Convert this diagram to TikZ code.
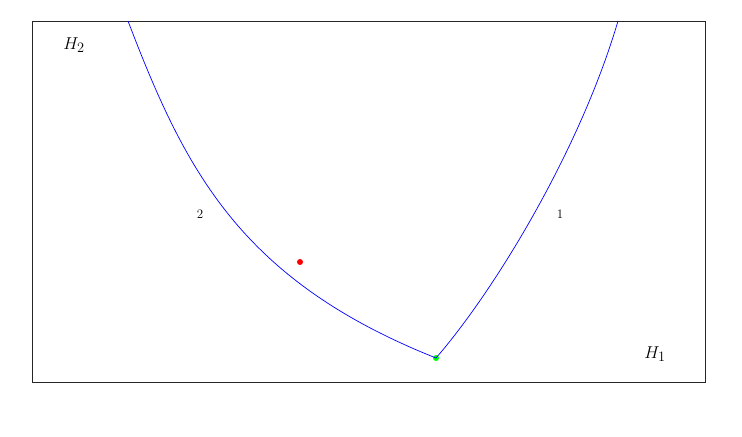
\documentclass[tikz,border=0pt]{standalone}
\begin{document}
\begin{tikzpicture}[x=1bp,y=-1bp,
  frame/.style={draw=black!85,line width=0.8bp},
  curve/.style={draw=blue,line width=0.7bp},
  dot/.style={circle,inner sep=0pt,minimum size=6bp},
  bigl/.style={font=\fontsize{19}{22}\selectfont},
  smalll/.style={font=\fontsize{13}{15}\selectfont}]
\useasboundingbox (0,0) rectangle (742,437);
\draw[frame] (32,21) rectangle (705,382);
\node[dot,fill=green] (g) at (436,358) {};
\node[dot,fill=red] (r) at (300,262) {};
\coordinate (a) at (128,21);
\coordinate (b) at (618,21);
\draw[curve] (a) .. controls (185,170) and (240,280) .. (g.center);
\draw[curve] (g.center) .. controls (495,290) and (580,150) .. (b);
\node[smalll] (l2) at (200,214) {2};
\node[smalll] (l1) at (560,214) {1};
\node[bigl] (h2) at (74,45) {$H_2$};
\node[bigl] (h1) at (655,354) {$H_1$};
\end{tikzpicture}
\end{document}
